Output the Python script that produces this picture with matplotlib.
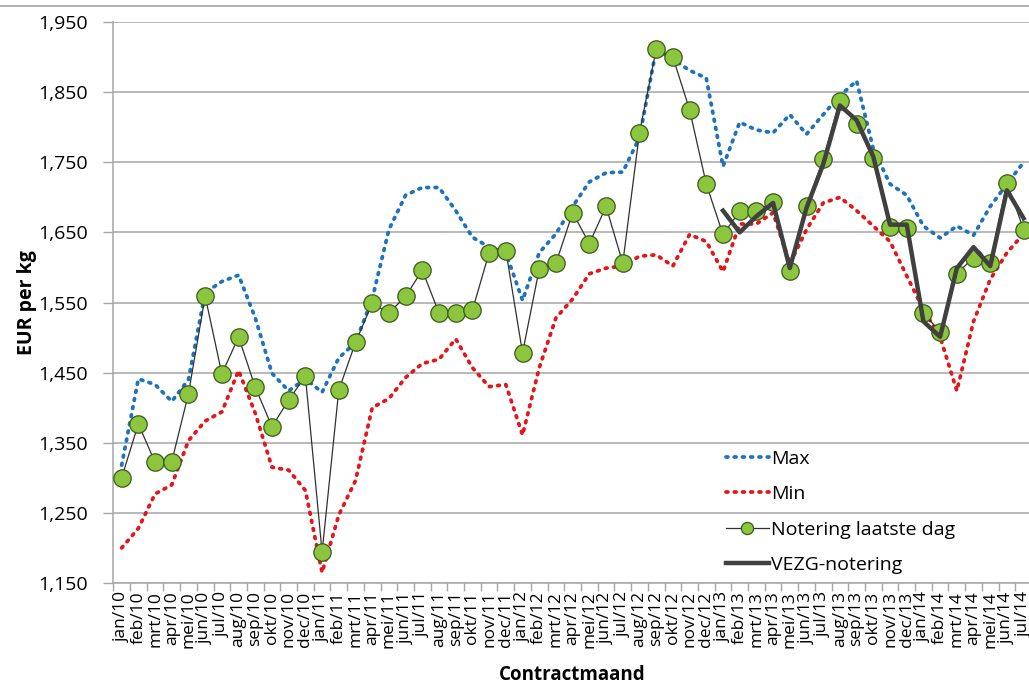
import matplotlib
matplotlib.use("Agg")
import matplotlib.pyplot as plt
from matplotlib.lines import Line2D
from matplotlib.ticker import FuncFormatter, FixedLocator

plt.rcParams['font.family'] = ['Open Sans', 'DejaVu Sans']

months = ["jan", "feb", "mrt", "apr", "mei", "jun", "jul", "aug", "sep", "okt", "nov", "dec"]
years = ["10", "11", "12", "13", "14"]
labels = [f"{m}/{y}" for y in years for m in months][:55]
yticks = [1150, 1250, 1350, 1450, 1550, 1650, 1750, 1850, 1950]

max_vals = [1318, 1441, 1433, 1409, 1440, 1564, 1580, 1589, 1528, 1449, 1424, 1441,
            1422, 1471, 1493, 1555, 1654, 1703, 1714, 1714, 1681, 1643, 1629, 1621,
            1553, 1621, 1648, 1687, 1722, 1735, 1736, 1785, 1911, 1897, 1881, 1870,
            1744, 1807, 1796, 1792, 1818, 1790, 1818, 1845, 1866, 1769, 1719, 1703,
            1659, 1642, 1659, 1646, 1687, 1719, 1750]
min_vals = [1200, 1228, 1277, 1290, 1353, 1381, 1394, 1453, 1392, 1315, 1311, 1282,
            1165, 1247, 1296, 1400, 1413, 1443, 1463, 1469, 1498, 1457, 1430, 1433,
            1361, 1457, 1528, 1555, 1591, 1599, 1602, 1616, 1618, 1602, 1647, 1637,
            1594, 1662, 1662, 1678, 1605, 1654, 1692, 1700, 1681, 1659, 1637, 1588,
            1540, 1501, 1424, 1523, 1583, 1621, 1648]
notering = [1300, 1377, 1322, 1323, 1420, 1559, 1448, 1501, 1429, 1373, 1411, 1445,
            1194, 1425, 1493, 1549, 1535, 1559, 1596, 1535, 1535, 1539, 1621, 1624,
            1478, 1598, 1606, 1678, 1634, 1687, 1606, 1792, 1911, 1900, 1825, 1719,
            1647, 1680, 1680, 1694, 1595, 1688, 1754, 1838, 1804, 1756, 1657, 1656,
            1535, 1508, 1591, 1614, 1607, 1721, 1654]
vezg_start = 36
vezg = [1681, 1650, 1673, 1692, 1599, 1685, 1747, 1831, 1810, 1758, 1661, 1661,
        1523, 1501, 1599, 1629, 1602, 1710, 1670]

W, H = 1029, 685
fig = plt.figure(figsize=(W / 100, H / 100), dpi=100)
ax = fig.add_axes([113.3 / W, (H - 583) / H, 918.7 / W, (583 - 22) / H])

x = list(range(len(labels)))
xv = list(range(vezg_start, vezg_start + len(vezg)))

ax.plot(x, max_vals, color="#1F72BC", lw=2.7, ls=(0, (0.5, 1.7)), dash_capstyle="round",
        label="Max", zorder=3)
ax.plot(x, min_vals, color="#E3161B", lw=2.7, ls=(0, (0.5, 1.7)), dash_capstyle="round",
        label="Min", zorder=3)
ax.plot(x, notering, color="#303030", lw=0.9, marker="o", markersize=12.5,
        markerfacecolor="#8CC63F", markeredgecolor="#3A5A1A", markeredgewidth=0.9,
        label="Notering laatste dag", zorder=4)
ax.plot(xv, vezg, color="#404040", lw=3.2, label="VEZG-notering", zorder=5)

ax.set_xlim(-0.5, len(labels) - 0.5)
ax.set_ylim(yticks[0], yticks[-1])
ax.yaxis.set_major_locator(FixedLocator(yticks))
ax.yaxis.set_major_formatter(FuncFormatter(lambda v, p: f"{v:,.0f}"))
ax.grid(axis="y", color="#A6A6A6", lw=1.1, zorder=0)
ax.set_axisbelow(True)

ax.set_xticks(x)
ax.set_xticklabels(labels, rotation=90, fontsize=12.5, va="top", ha="center")
ax.xaxis.set_minor_locator(FixedLocator([i - 0.5 for i in range(len(labels) + 1)]))
ax.tick_params(axis="x", which="major", length=0, pad=6)
ax.tick_params(axis="x", which="minor", length=6, color="#A6A6A6", width=1)
ax.tick_params(axis="y", length=7, color="#A6A6A6", width=1, labelsize=14, pad=11)

for s in ["top", "right"]:
    ax.spines[s].set_visible(False)
for s in ["left", "bottom"]:
    ax.spines[s].set_color("#A6A6A6")
    ax.spines[s].set_linewidth(1.1)

ax.set_xlabel("Contractmaand", fontsize=13.5, fontweight="bold", labelpad=12)
ax.set_ylabel("EUR per kg", fontsize=14, fontweight="bold", labelpad=1)

leg = ax.legend(loc="upper left", bbox_to_anchor=((718 - 113.3) / 918.7, 1 - (442 - 22) / 561),
                frameon=False, fontsize=14, handlelength=2.2, handletextpad=0.15,
                labelspacing=0.9, borderaxespad=0, markerscale=0.7)

fig.add_artist(Line2D([0, 1], [1 - 6 / H, 1 - 6 / H], color="#A6A6A6", lw=1.2,
                      transform=fig.transFigure))

fig.savefig("out.png", dpi=100)
